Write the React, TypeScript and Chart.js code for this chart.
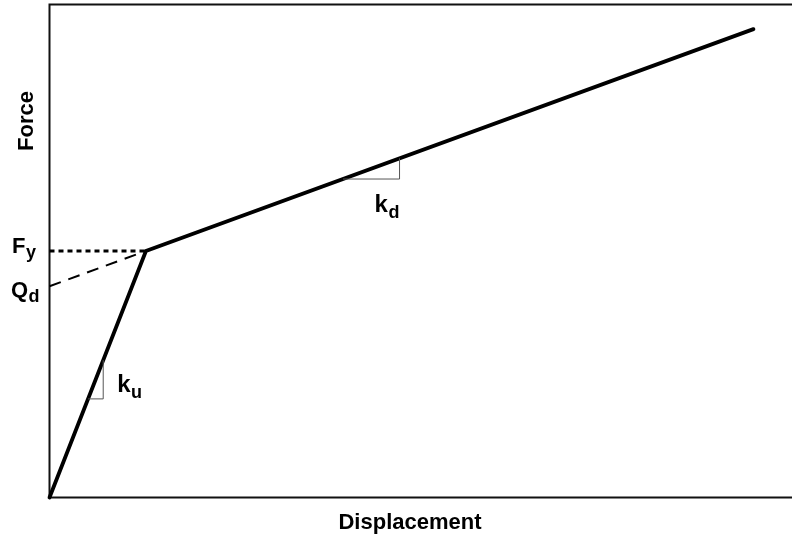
import { useEffect, useRef } from 'react';
import { Chart, registerables } from 'chart.js';

Chart.register(...registerables);

// Bilinear force–displacement model (normalised units)
const displacement = [0, 1, 7.3];
const force = [0, 1, 1.9];
const yieldForce = 1; // Fy
const characteristicStrength = 0.857; // Qd
const fyGuideX = [0, 1];
const fyGuideY = [1, 1];
const qdGuideX = [0, 1];
const qdGuideY = [0.857, 1];
const kuTriangleX = [0.4, 0.557, 0.557];
const kuTriangleY = [0.4, 0.4, 0.557];
const kdTriangleX = [3.044, 3.63, 3.63];
const kdTriangleY = [1.292, 1.292, 1.376];
const xMax = 7.7;
const yMax = 2;

const xAxisTitle = 'Displacement';
const yAxisTitle = 'Force';

const FONT = '"Liberation Sans", Arial, sans-serif';

function pts(xs: number[], ys: number[]) {
  return xs.map((x, i) => ({ x, y: ys[i] }));
}

function drawSub(ctx: CanvasRenderingContext2D, main: string, sub: string, x: number, y: number, size: number, subSize: number, subDrop: number) {
  ctx.font = `bold ${size}px ${FONT}`;
  ctx.textAlign = 'left';
  ctx.textBaseline = 'alphabetic';
  ctx.fillText(main, x, y);
  const w = ctx.measureText(main).width;
  ctx.font = `bold ${subSize}px ${FONT}`;
  ctx.fillText(sub, x + w + 0.5, y + subDrop);
}

const decorPlugin = {
  id: 'decor',
  beforeDatasetsDraw(chart: any) {
    const { ctx, chartArea } = chart;
    const { left, top, bottom } = chartArea;
    const W = chart.width;
    ctx.save();
    ctx.strokeStyle = '#111';
    ctx.lineWidth = 2;
    ctx.beginPath();
    ctx.moveTo(W, top);
    ctx.lineTo(left, top);
    ctx.lineTo(left, bottom);
    ctx.lineTo(W, bottom);
    ctx.stroke();
    ctx.restore();
  },
  afterDatasetsDraw(chart: any) {
    const { ctx, scales } = chart;
    const xs = scales.x;
    const ys = scales.y;
    const left = chart.chartArea.left;
    ctx.save();
    ctx.fillStyle = '#000';
    // axis titles
    ctx.font = `bold 22px ${FONT}`;
    ctx.textAlign = 'center';
    ctx.textBaseline = 'alphabetic';
    ctx.fillText(xAxisTitle, 410, 529);
    ctx.save();
    ctx.translate(33, 121);
    ctx.rotate(-Math.PI / 2);
    ctx.fillText(yAxisTitle, 0, 0);
    ctx.restore();
    // Fy / Qd
    drawSub(ctx, 'F', 'y', left - 37.5, ys.getPixelForValue(yieldForce) + 2, 22, 18, 5);
    drawSub(ctx, 'Q', 'd', left - 38.5, ys.getPixelForValue(characteristicStrength) + 11, 22, 18, 5);
    // ku / kd
    drawSub(ctx, 'k', 'u', xs.getPixelForValue(kuTriangleX[1]) + 14, ys.getPixelForValue(kuTriangleY[0]) - 7, 24, 18, 6);
    drawSub(ctx, 'k', 'd', xs.getPixelForValue(kdTriangleX[1]) - 25, ys.getPixelForValue(kdTriangleY[0]) + 33, 24, 18, 6);
    ctx.restore();
  },
};

export default function App() {
  const ref = useRef<HTMLCanvasElement | null>(null);
  useEffect(() => {
    if (!ref.current) return;
    const chart = new Chart(ref.current, {
      type: 'line',
      data: {
        datasets: [
          {
            data: pts(fyGuideX, fyGuideY),
            borderColor: '#000',
            borderWidth: 3,
            borderDash: [5, 4],
            pointRadius: 0,
            clip: false,
          },
          {
            data: pts(qdGuideX, qdGuideY),
            borderColor: '#000',
            borderWidth: 2,
            borderDash: [12, 8],
            pointRadius: 0,
            clip: false,
          },
          {
            data: pts(kuTriangleX, kuTriangleY),
            borderColor: '#555',
            borderWidth: 1,
            pointRadius: 0,
            clip: false,
          },
          {
            data: pts(kdTriangleX, kdTriangleY),
            borderColor: '#555',
            borderWidth: 1,
            pointRadius: 0,
            clip: false,
          },
          {
            data: pts(displacement, force),
            borderColor: '#000',
            borderWidth: 3.8,
            pointRadius: 0,
            borderCapStyle: 'round',
            clip: false,
          },
        ],
      },
      options: {
        animation: false,
        responsive: true,
        maintainAspectRatio: false,
        layout: { padding: { left: 49.5, top: 4.5, right: 0, bottom: 42.5 } },
        plugins: { legend: { display: false }, tooltip: { enabled: false } },
        scales: {
          x: { type: 'linear', min: 0, max: xMax, display: false },
          y: { type: 'linear', min: 0, max: yMax, display: false },
        },
      },
      plugins: [decorPlugin],
    });
    return () => chart.destroy();
  }, []);
  return (
    <div style={{ position: 'absolute', left: 0, top: 0, width: 792, height: 540, background: '#fff' }}>
      <canvas ref={ref} />
    </div>
  );
}
